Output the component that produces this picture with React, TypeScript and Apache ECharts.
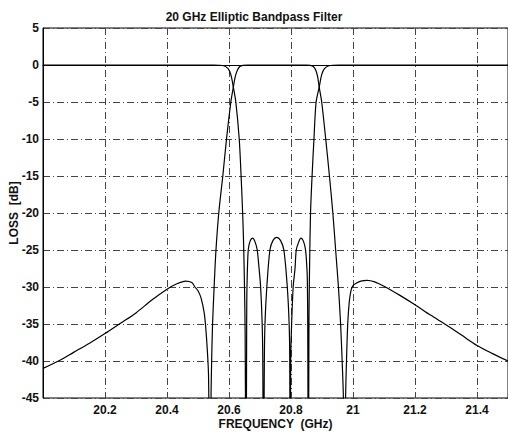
import React, { useEffect, useRef } from "react";
import * as echarts from "echarts";

// S21 (transmission) — frequency in GHz, loss in dB (values below -45 are clipped by the plot)
const s21Freq = [
  20.0, 20.05, 20.1, 20.15, 20.2, 20.25, 20.3, 20.35, 20.4, 20.43, 20.46, 20.48, 20.49, 20.5, 20.51,
  20.52, 20.525, 20.53, 20.534, 20.539, 20.542, 20.544, 20.547, 20.552, 20.558, 20.567, 20.58, 20.592,
  20.606, 20.614, 20.62, 20.627, 20.635, 20.645, 20.66, 20.85, 20.862, 20.872, 20.88, 20.886, 20.891,
  20.899, 20.912, 20.924, 20.935, 20.944, 20.953, 20.96, 20.965, 20.969, 20.972, 20.976, 20.979, 20.983,
  20.988, 20.994, 21.0, 21.01, 21.025, 21.045, 21.07, 21.1, 21.15, 21.2, 21.25, 21.3, 21.35, 21.4,
  21.45, 21.5,
];
const s21Loss = [
  -41.0, -40.0, -38.8, -37.6, -36.3, -34.9, -33.5, -31.8, -30.3, -29.6, -29.2, -29.4, -30.0, -30.5, -31.5,
  -33.5, -35.5, -38.5, -42, -60, -45, -40, -35, -30, -25, -20, -15, -10,
  -5, -3, -1.6, -0.7, -0.2, -0.05, 0, 0, -0.05, -0.2, -0.7, -1.6, -3.0,
  -5, -10, -15, -20, -25, -30, -35, -40, -45, -60, -45, -40, -35,
  -32, -30.4, -29.8, -29.5, -29.2, -29.1, -29.3, -29.9, -31.1, -32.4, -33.8, -35.1, -36.5, -37.9,
  -39.0, -40.0,
];

// S11 (reflection)
const s11Freq = [
  20.0, 20.55, 20.583, 20.597, 20.606, 20.614, 20.622, 20.633, 20.639, 20.644, 20.647, 20.65, 20.652,
  20.655, 20.657, 20.658, 20.662, 20.668, 20.676, 20.684, 20.691, 20.697, 20.702, 20.707, 20.709,
  20.711, 20.714, 20.716, 20.722, 20.732, 20.742, 20.754, 20.766, 20.777, 20.788, 20.794, 20.796,
  20.797, 20.799, 20.802, 20.807, 20.813, 20.817, 20.825, 20.832, 20.84, 20.847, 20.852, 20.853,
  20.854, 20.856, 20.858, 20.86, 20.863, 20.868, 20.874, 20.881, 20.891, 20.899, 20.908, 20.922,
  20.955, 21.5,
];
const s11Loss = [
  0, 0, -0.1, -0.5, -1.3, -3.0, -5, -10, -15, -20, -24, -30, -36,
  -60, -35, -30, -25, -23.8, -23.4, -23.9, -25, -27.5, -30, -35, -40,
  -60, -40, -35, -30, -25, -23.7, -23.3, -23.7, -25, -30, -35, -40,
  -60, -40, -35, -30, -27.5, -25, -23.9, -23.4, -23.8, -25, -28, -30,
  -35, -60, -34, -27, -20, -15, -10, -5, -3.0, -1.3, -0.5, -0.1,
  0, 0,
];

const xTickLabels = ["20.2", "20.4", "20.6", "20.8", "21", "21.2", "21.4"];
const yTickLabels = ["5", "0", "-5", "-10", "-15", "-20", "-25", "-30", "-35", "-40", "-45"];

const FONT = "'Liberation Sans', Arial, Helvetica, sans-serif";

export default function App() {
  const ref = useRef<HTMLDivElement>(null);

  useEffect(() => {
    if (!ref.current) return;
    const chart = echarts.init(ref.current, null, { renderer: "svg" });
    const gridLine = { color: "#444", width: 1, type: [7, 3, 1, 3] as number[] };
    const s21Data = s21Freq.map((f, i) => [f, s21Loss[i]]);
    const s11Data = s11Freq.map((f, i) => [f, s11Loss[i]]);
    chart.setOption({
      animation: false,
      backgroundColor: "#fff",
      title: {
        text: "20 GHz Elliptic Bandpass Filter",
        left: "center",
        top: 6,
        textStyle: { fontFamily: FONT, fontSize: 12, fontWeight: "bold", color: "#111" },
      },
      grid: {
        left: 43,
        right: 0,
        top: 28,
        bottom: 35,
        outerBoundsMode: "none",
        containLabel: false,
        show: true,
        borderColor: "#000",
        borderWidth: 1,
      },
      xAxis: {
        type: "value",
        min: 20,
        max: 21.5,
        interval: 0.2,
        name: "FREQUENCY  (GHz)",
        nameLocation: "middle",
        nameGap: 20,
        nameMoveOverlap: false,
        nameTextStyle: { fontFamily: FONT, fontSize: 12, fontWeight: "bold", color: "#111" },
        axisLine: { show: true, lineStyle: { color: "#000", width: 1 } },
        axisTick: { show: false },
        axisLabel: {
          margin: 6,
          fontFamily: FONT,
          fontSize: 12,
          fontWeight: "bold",
          color: "#111",
          showMaxLabel: false,
          formatter: (v: number) => {
            const s = String(Math.round(v * 10) / 10);
            return xTickLabels.includes(s) ? s : "";
          },
        },
        splitLine: { show: true, lineStyle: gridLine },
      },
      yAxis: {
        type: "value",
        min: -45,
        max: 5,
        interval: 5,
        name: "LOSS  [dB]",
        nameLocation: "middle",
        nameGap: 23,
        nameMoveOverlap: false,
        nameTextStyle: { fontFamily: FONT, fontSize: 12, fontWeight: "bold", color: "#111" },
        axisLine: { show: true, lineStyle: { color: "#000", width: 1 } },
        axisTick: { show: false },
        axisLabel: {
          margin: 4,
          fontFamily: FONT,
          fontSize: 12,
          fontWeight: "bold",
          color: "#111",
          formatter: (v: number) => {
            const s = String(Math.round(v));
            return yTickLabels.includes(s) ? s : "";
          },
        },
        splitLine: { show: true, lineStyle: gridLine },
      },
      series: [
        {
          name: "S21",
          type: "line",
          data: s21Data,
          showSymbol: false,
          smooth: 0.3,
          clip: true,
          lineStyle: { color: "#000", width: 1.2 },
        },
        {
          name: "S11",
          type: "line",
          data: s11Data,
          showSymbol: false,
          smooth: 0.3,
          clip: true,
          lineStyle: { color: "#000", width: 1.2 },
        },
      ],
    });
    return () => chart.dispose();
  }, []);

  return (
    <div
      ref={ref}
      style={{ position: "fixed", left: 0, top: 0, width: 508, height: 433, background: "#fff" }}
    />
  );
}
